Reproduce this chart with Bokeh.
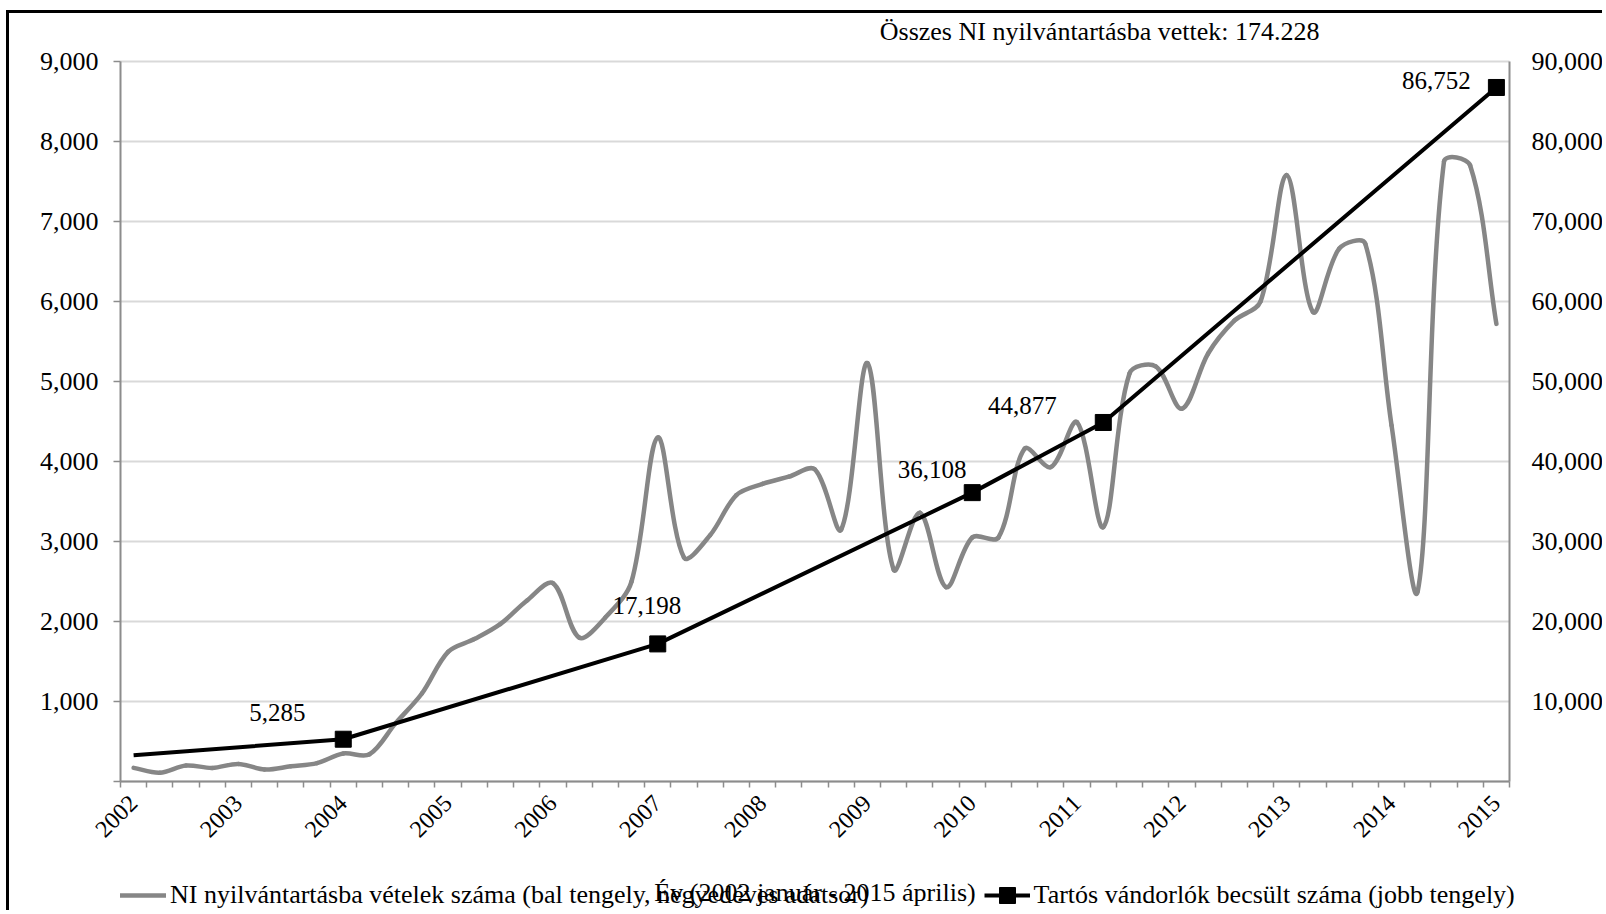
import math
from bokeh.plotting import figure
from bokeh.models import (Range1d, LinearAxis, FixedTicker, NumeralTickFormatter,
                          Label, Legend, LegendItem)
from bokeh.embed import file_html
from bokeh.resources import INLINE

# ---------------- data ----------------
years = [str(y) for y in range(2002, 2016)]
quarter_idx = list(range(53))          # 2002 Q1 ... 2015 Q1
ni_quarterly = [170, 110, 200, 170, 220, 150, 190, 230, 350, 340,
                730, 1100, 1620, 1780, 1970, 2260, 2480, 1800, 2050, 2500,
                4300, 2800, 3080, 3580, 3720, 3810, 3900, 3150, 5230, 2650,
                3360, 2430, 3050, 3050, 4160, 3930, 4490, 3180, 5100, 5190,
                4660, 5350, 5760, 6000, 7580, 5870, 6660, 6720, 4450, 2380,
                7750, 7700, 5720]
stock_idx = [0, 8, 20, 32, 37, 52]
stock_vals = [3280, 5285, 17198, 36108, 44877, 86752]
stock_marked = [False, True, True, True, True, True]
left_ticks = [0, 1000, 2000, 3000, 4000, 5000, 6000, 7000, 8000, 9000]
right_ticks = [10000, 20000, 30000, 40000, 50000, 60000, 70000, 80000, 90000]
title_text = "Összes NI nyilvántartásba vettek: 174.228"
xaxis_title = "Év (2002 január - 2015 április)"
legend_ni = "NI nyilvántartásba vételek száma (bal tengely, negyedéves adatsor)"
legend_stock = "Tartós vándorlók becsült száma (jobb tengely)"

# ---------------- style / layout ----------------
FONT = "Liberation Serif"
GREY = "#868686"
AXIS = "#8c8c8c"
GRID = "#d9d9d9"
label_offsets = {8: (-66, 27), 20: (-11, 38), 32: (-40, 23), 37: (-81, 17), 52: (-60, 7)}

W, H = 1596, 900
PLOT_L, PLOT_W = 111, 1389                 # pixels of the category area inside the canvas
PLOT_TOP, PLOT_H = 48, 720                 # pixels of the 0..9000 area inside the canvas
X0, X1 = quarter_idx[0] - 0.5, quarter_idx[-1] + 0.5
PX = PLOT_W / (X1 - X0)
PY = PLOT_H / 9000.0
XL = X0 - PLOT_L / PX
XR = XL + W / PX
LO = -(H - PLOT_TOP - PLOT_H) / PY
HI = 9000 + PLOT_TOP / PY

p = figure(width=W, height=H,
           x_range=Range1d(XL, XR), y_range=Range1d(LO, HI),
           output_backend="svg", toolbar_location=None,
           min_border_left=0, min_border_right=0,
           min_border_top=0, min_border_bottom=0)
p.styles = {"border-left": "3px solid black", "border-top": "3px solid black",
            "margin-left": "6px", "margin-top": "10px"}
p.outline_line_color = None
p.background_fill_color = "white"
p.border_fill_color = "white"
p.extra_y_ranges = {"right": Range1d(LO * 10, HI * 10)}

# horizontal gridlines limited to the category area
p.xgrid.visible = False
p.ygrid.visible = False
p.segment(x0=[X0] * len(left_ticks), x1=[X1] * len(left_ticks), y0=left_ticks, y1=left_ticks,
          line_color=GRID, line_width=2)

# x axis, drawn at value 0
xa = p.xaxis[0]
xa.fixed_location = 0
xa.bounds = (X0, X1)
xa.ticker = FixedTicker(ticks=quarter_idx[::4],
                        minor_ticks=[i - 0.5 for i in quarter_idx] + [X1])
xa.major_label_overrides = {k: y for k, y in zip(quarter_idx[::4], years)}
xa.major_tick_out = 0
xa.major_tick_in = 0
xa.minor_tick_out = 6
xa.minor_tick_in = 0
xa.minor_tick_line_color = AXIS
xa.minor_tick_line_width = 1.5
xa.axis_line_color = AXIS
xa.axis_line_width = 2
xa.major_label_orientation = math.pi / 4
xa.major_label_standoff = 12
xa.major_label_text_font = FONT
xa.major_label_text_font_size = "24px"
xa.major_label_text_color = "black"

# left axis, drawn at the left edge of the category area
ya = p.yaxis[0]
ya.fixed_location = X0
ya.bounds = (0, 9000)
ya.ticker = FixedTicker(ticks=left_ticks)
ya.formatter = NumeralTickFormatter(format="0,0")
ya.major_label_overrides = {0: ""}
ya.major_tick_out = 7
ya.major_tick_in = 0
ya.minor_tick_out = 0
ya.minor_tick_in = 0
ya.major_tick_line_color = AXIS
ya.major_tick_line_width = 1.5
ya.axis_line_color = AXIS
ya.axis_line_width = 2
ya.major_label_standoff = 15
ya.major_label_text_font = FONT
ya.major_label_text_font_size = "26px"
ya.major_label_text_color = "black"

# right axis, drawn at the right edge of the category area
ra = LinearAxis(y_range_name="right", ticker=FixedTicker(ticks=right_ticks),
                formatter=NumeralTickFormatter(format="0,0"), bounds=(0, 90000),
                fixed_location=X1)
ra.major_tick_out = 0
ra.major_tick_in = 0
ra.minor_tick_out = 0
ra.minor_tick_in = 0
ra.axis_line_color = AXIS
ra.axis_line_width = 2
ra.major_label_standoff = 22
ra.major_label_text_font = FONT
ra.major_label_text_font_size = "26px"
ra.major_label_text_color = "black"
p.add_layout(ra, "right")

# grey smoothed line: Excel-like bezier rendering through the quarterly readings,
# control-point lengths weighted by on-screen segment lengths
n = len(quarter_idx)
def pt(i):
    i = min(max(i, 0), n - 1)
    return quarter_idx[i], ni_quarterly[i]
def sdist(a, b):
    return math.hypot((a[0] - b[0]) * PX, (a[1] - b[1]) * PY)
bx0, by0, bx1, by1, cx0, cy0, cx1, cy1 = ([] for _ in range(8))
for i in range(n - 1):
    P0, P1, P2, P3 = pt(i - 1), pt(i), pt(i + 1), pt(i + 2)
    d01, d12, d23 = sdist(P0, P1), sdist(P1, P2), sdist(P2, P3)
    fa = d12 / (d01 + d12) / 3 if d01 + d12 > 0 else 0
    fb = d12 / (d12 + d23) / 3 if d12 + d23 > 0 else 0
    bx0.append(P1[0]); by0.append(P1[1]); bx1.append(P2[0]); by1.append(P2[1])
    cx0.append(P1[0] + (P2[0] - P0[0]) * fa); cy0.append(P1[1] + (P2[1] - P0[1]) * fa)
    cx1.append(P2[0] - (P3[0] - P1[0]) * fb); cy1.append(P2[1] - (P3[1] - P1[1]) * fb)
grey_r = p.bezier(x0=bx0, y0=by0, x1=bx1, y1=by1, cx0=cx0, cy0=cy0, cx1=cx1, cy1=cy1,
                  line_color=GREY, line_width=4.5, line_cap="round")

# black line with markers
black_line = p.line(stock_idx, stock_vals, y_range_name="right",
                    line_color="black", line_width=4, line_join="round")
mk_x = [k for k, m in zip(stock_idx, stock_marked) if m]
mk_y = [v for v, m in zip(stock_vals, stock_marked) if m]
black_mk = p.scatter(mk_x, mk_y, y_range_name="right", marker="square", size=16,
                     fill_color="black", line_color="black")

for k, v in zip(mk_x, mk_y):
    dx, dy = label_offsets[k]
    p.add_layout(Label(x=k, y=v, y_range_name="right", text=f"{v:,}",
                       x_offset=dx, y_offset=dy, text_align="center", text_baseline="middle",
                       text_font=FONT, text_font_size="25px", text_color="black"))

# title and x-axis title
p.add_layout(Label(x=36.86, y=9375, text=title_text, text_align="center",
                   text_baseline="middle", text_font=FONT, text_font_size="26px",
                   text_color="black"))
p.add_layout(Label(x=(X0 + X1) / 2, y=-1385, text=xaxis_title, text_align="center",
                   text_baseline="middle", text_font=FONT, text_font_size="26px",
                   text_color="black"))

# legend (one row at the bottom)
legend = Legend(items=[LegendItem(label=legend_ni, renderers=[grey_r]),
                       LegendItem(label=legend_stock, renderers=[black_line, black_mk])],
                location=(PLOT_L, -2), orientation="horizontal", padding=0, margin=0,
                spacing=115, border_line_color=None, background_fill_alpha=0,
                glyph_width=46, glyph_height=40, label_standoff=4,
                label_text_font=FONT, label_text_font_size="26px",
                label_text_color="black", label_height=20)
p.add_layout(legend)

open("out.html", "w").write(file_html(p, INLINE))
